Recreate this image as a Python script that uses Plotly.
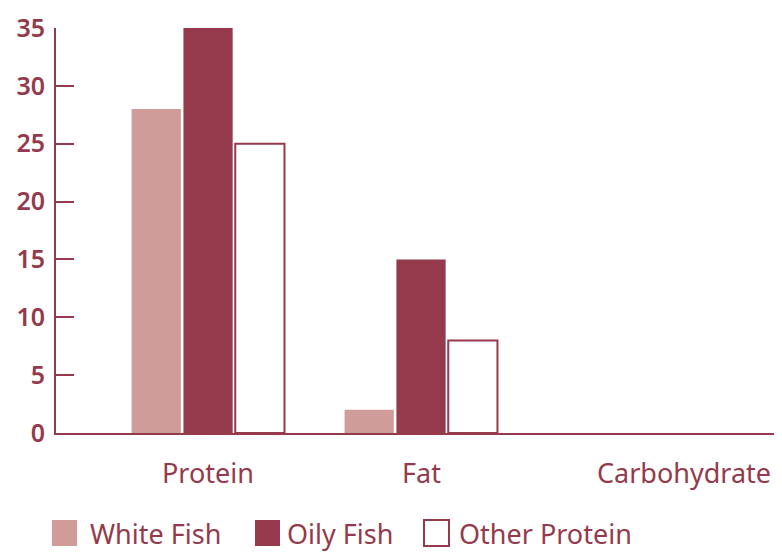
import plotly.graph_objects as go

categories = ["Protein", "Fat", "Carbohydrate"]
series_names = ["White Fish", "Oily Fish", "Other Protein"]
white_fish = [28, 2, 0]
oily_fish = [35, 15, 0]
other_protein = [25, 8, 0]
y_ticks = [0, 5, 10, 15, 20, 25, 30, 35]

RED = "#943A4C"
PINK = "#D09C9A"
OFF = 8  # default page body margin
W, H = 782 - OFF, 559 - 2 * OFF
ML, MR, MT = 56 - OFF, 0, 28 - OFF
MB = H - (433 - OFF)
PW, PH = W - ML - MR, H - MT - MB

def px2x(px):
    return (px - OFF - ML) / PW

def py2y(py):
    return (H - MB - (py - OFF)) / PH

fills = [PINK, RED, "white"]
lines = [PINK, RED, RED]
values = [white_fish, oily_fish, other_protein]

fig = go.Figure()
for name, vals, fc, lc in zip(series_names, values, fills, lines):
    lw = [(2 if fc == "white" else 0) if v > 0 else 0 for v in vals]
    fig.add_trace(go.Bar(
        x=categories, y=vals, name=name,
        marker=dict(color=fc, line=dict(color=lc, width=lw)),
        showlegend=False,
    ))

font = "Noto Sans, Open Sans, sans-serif"
fig.update_layout(
    width=W, height=H,
    margin=dict(l=ML, r=MR, t=MT, b=MB, autoexpand=False),
    plot_bgcolor="white", paper_bgcolor="white",
    barmode="group", bargap=0.27, bargroupgap=0.05,
    font=dict(family=font, color=RED),
)
fig.update_xaxes(
    range=[-0.714, 2.695], showline=True, linecolor=RED, linewidth=2,
    showticklabels=False, ticks="", showgrid=False, zeroline=False,
)
fig.update_yaxes(
    range=[0, 35], tickvals=y_ticks, ticks="inside", ticklen=18, tickwidth=2,
    tickcolor=RED, showline=True, linecolor=RED, linewidth=2,
    showgrid=False, zeroline=False, ticklabelstandoff=4,
    tickfont=dict(size=25, color=RED, family=font, weight=600),
)

# category labels
shifts = [0, 0, 50]
for cat, sh in zip(categories, shifts):
    fig.add_annotation(x=cat, y=0, xref="x", yref="paper", yshift=-39, xshift=sh,
                       text=cat, showarrow=False, yanchor="middle",
                       font=dict(size=27, color=RED, family=font))

# legend drawn manually with large swatches
legend_sq = [52, 255, 424]
legend_txt = [88, 285, 457]
for name, fc, lc, sx, tx in zip(series_names, fills, lines, legend_sq, legend_txt):
    fig.add_shape(type="rect", xref="paper", yref="paper",
                  x0=px2x(sx), x1=px2x(sx + 25), y0=py2y(546), y1=py2y(520),
                  fillcolor=fc, line=dict(color=lc, width=2 if fc == "white" else 0))
    fig.add_annotation(x=px2x(tx), y=py2y(533), xref="paper", yref="paper",
                       text=name, showarrow=False, xanchor="left", yanchor="middle",
                       font=dict(size=27, color=RED, family=font))

fig.write_html("out.html")
